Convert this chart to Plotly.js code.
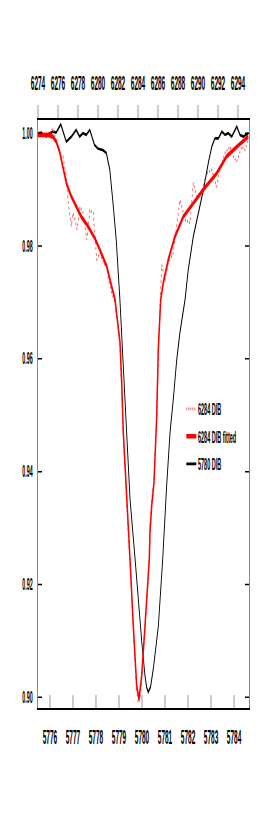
<!DOCTYPE html>
<html>
<head>
<meta charset="utf-8">
<script src="https://cdn.plot.ly/plotly-3.0.1.min.js"></script>
<style>
html,body{margin:0;padding:0;overflow:hidden;background:#fff;width:273px;height:830px;}
#plot{width:819px;height:830px;transform:scaleX(0.33333);transform-origin:0 0;}
</style>
</head>
<body>
<div id="plot"></div>
<script>
// 5780 DIB (bottom axis, wavelength in Angstrom)
const dib5780_x = [5775.48,5775.62,5775.84,5775.99,5776.13,5776.27,5776.47,5776.71,5776.93,5777.14,5777.29,5777.43,5777.58,5777.73,5777.94,5778.08,5778.30,5778.45,5778.60,5778.74,5778.88,5779.04,5779.26,5779.48,5779.70,5779.99,5780.13,5780.20,5780.27,5780.37,5780.49,5780.71,5780.90,5781.07,5781.22,5781.36,5781.51,5781.65,5781.87,5782.01,5782.23,5782.45,5782.67,5782.88,5783.03,5783.17,5783.32,5783.47,5783.61,5783.75,5783.90,5784.12,5784.26,5784.40,5784.62];
const dib5780_y = [1.0000,1.0001,0.9994,1.0000,1.0003,1.0001,1.0016,0.9985,0.9994,1.0006,0.9994,1.0000,0.9997,1.0006,0.9979,0.9973,0.9970,0.9965,0.9935,0.9876,0.9811,0.9705,0.9528,0.9351,0.9245,0.9098,0.9038,0.9018,0.9009,0.9018,0.9050,0.9126,0.9245,0.9374,0.9470,0.9528,0.9599,0.9647,0.9705,0.9758,0.9817,0.9858,0.9900,0.9947,0.9976,0.9991,0.9991,1.0003,0.9997,1.0000,0.9994,1.0012,0.9997,0.9994,1.0000];

// 6284 DIB observed (top axis)
const dib6284_x = [6274.0,6274.7,6275.2,6275.5,6275.8,6276.17,6276.33,6276.5,6276.8,6277.05,6277.33,6277.5,6277.7,6277.9,6278.2,6278.53,6278.87,6279.2,6279.53,6279.87,6280.2,6280.53,6280.87,6281.03,6281.37,6281.7,6281.9,6282.2,6282.53,6282.8,6283.03,6283.2,6283.53,6283.87,6284.03,6284.2,6284.37,6284.7,6285.13,6285.2,6285.37,6285.6,6285.87,6286.03,6286.2,6286.37,6286.7,6287.03,6287.53,6287.9,6288.2,6288.7,6289.2,6289.53,6289.87,6290.37,6290.87,6291.37,6291.87,6292.2,6292.7,6293.2,6293.53,6293.87,6294.37,6294.7,6295.03];
const dib6284_y = [1.0000,0.9999,1.0001,1.0009,0.9988,0.9967,0.9956,0.9959,0.9926,0.9873,0.9835,0.9859,0.9847,0.9829,0.9870,0.9858,0.9811,0.9864,0.9858,0.9776,0.9788,0.9770,0.9764,0.9741,0.9717,0.9700,0.9673,0.9625,0.9464,0.9374,0.9287,0.9240,0.9121,0.9011,0.8990,0.8997,0.9032,0.9121,0.9241,0.9303,0.9351,0.9386,0.9493,0.9613,0.9687,0.9767,0.9740,0.9770,0.9788,0.9838,0.9882,0.9847,0.9841,0.9912,0.9888,0.9897,0.9929,0.9935,0.9905,0.9935,0.9965,0.9976,0.9959,0.9950,0.9976,0.9970,0.9988];

// 6284 DIB fitted (top axis)
const fit6284_x = [6274.0,6275.0,6275.5,6275.83,6276.17,6276.5,6276.83,6277.33,6277.83,6278.33,6279.0,6279.67,6280.2,6280.87,6281.37,6281.7,6282.2,6282.37,6282.53,6282.8,6283.03,6283.2,6283.53,6283.87,6284.1,6284.37,6284.7,6285.13,6285.2,6285.37,6285.6,6285.87,6286.03,6286.27,6286.53,6287.03,6287.7,6288.53,6289.53,6290.53,6291.87,6292.87,6293.87,6295.03];
const fit6284_y = [0.9997,0.9997,0.9994,0.9985,0.9967,0.9941,0.9912,0.9888,0.9870,0.9852,0.9835,0.9814,0.9793,0.9764,0.9728,0.9705,0.9629,0.9558,0.9470,0.9381,0.9293,0.9245,0.9127,0.9020,0.8997,0.9038,0.9127,0.9245,0.9293,0.9339,0.9381,0.9498,0.9617,0.9705,0.9735,0.9776,0.9817,0.9852,0.9876,0.9900,0.9929,0.9959,0.9976,0.9994];

const bottomTicks = [5776,5777,5778,5779,5780,5781,5782,5783,5784];
const topTicks = [6274,6276,6278,6280,6282,6284,6286,6288,6290,6292,6294];
const yTicks = [0.90,0.92,0.94,0.96,0.98,1.00];

const FONT = '"Liberation Sans", Arial, sans-serif';

const traces = [
  {x: dib6284_x, y: dib6284_y, xaxis: 'x2', yaxis: 'y', mode: 'lines', name: '6284 DIB',
   legendgroup: 'a', line: {color: 'rgba(232,80,80,0.85)', width: 2.6, dash: 'dot'}},
  {x: fit6284_x, y: fit6284_y, xaxis: 'x2', yaxis: 'y', mode: 'lines', name: '6284 DIB fitted',
   legendgroup: 'b', line: {color: '#ff0000', width: 4.5}},
  {x: dib5780_x, y: dib5780_y, xaxis: 'x', yaxis: 'y', mode: 'lines', name: '5780 DIB',
   legendgroup: 'c', line: {color: '#000000', width: 2.7}}
];

const layout = {
  width: 819, height: 830,
  margin: {l: 114, r: 72, t: 120, b: 122},
  paper_bgcolor: '#fff', plot_bgcolor: '#fff',
  font: {family: FONT, color: '#000'},
  showlegend: true,
  legend: {x: 0.695, y: 0.538, xanchor: 'left', yanchor: 'top', bgcolor: 'rgba(0,0,0,0)',
           font: {size: 16.5, family: FONT, weight: 'bold'}, traceorder: 'grouped', tracegroupgap: 3},
  xaxis: {range: [5775.48, 5784.65], tickmode: 'array', tickvals: bottomTicks,
          ticktext: bottomTicks.map(String), ticks: 'inside', ticklen: 13, tickwidth: 3, tickcolor: '#999',
          showline: true, linecolor: '#000', linewidth: 2, showgrid: false, zeroline: false,
          tickfont: {size: 19.5, family: FONT, weight: 'bold'}, ticklabelstandoff: 11},
  xaxis2: {range: [6274, 6295.1], overlaying: 'x', side: 'top', anchor: 'y', tickmode: 'array', tickvals: topTicks,
           ticktext: topTicks.map(String), ticks: 'outside', ticklen: 13, tickwidth: 3, tickcolor: '#999',
           showline: true, linecolor: '#000', linewidth: 2, showgrid: false, zeroline: false,
           tickfont: {size: 19.5, family: FONT, weight: 'bold'}, ticklabelstandoff: 7},
  yaxis: {range: [0.8981, 1.00235], tickmode: 'array', tickvals: yTicks, tickformat: '.2f',
          ticks: 'inside', ticklen: 12, tickwidth: 1.5, tickcolor: '#000', mirror: 'ticks',
          showline: true, linecolor: '#888', linewidth: 3, showgrid: false, zeroline: false,
          tickfont: {size: 16, family: FONT, weight: 'bold'}, ticklabelstandoff: 10}
};

Plotly.newPlot('plot', traces, layout, {displayModeBar: false, staticPlot: true});
</script>
</body>
</html>
